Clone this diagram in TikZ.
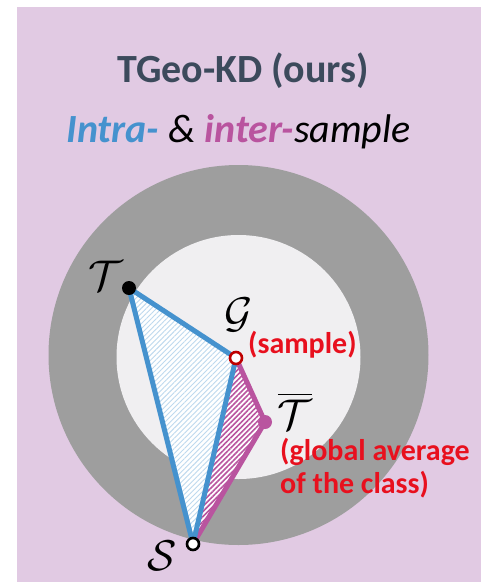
\documentclass[tikz,border=0pt]{standalone}
\usepackage{amsmath}
\usepackage{fontspec}
\setmainfont{Carlito}
\usepackage{tikz}
\usetikzlibrary{patterns.meta}
\definecolor{bgLilac}{HTML}{E1CAE3}
\definecolor{ringGray}{HTML}{9E9E9E}
\definecolor{coreGray}{HTML}{F0EFF1}
\definecolor{intraBlue}{HTML}{4592CE}
\definecolor{interPink}{HTML}{B9549F}
\definecolor{noteRed}{HTML}{E8101E}
\definecolor{titleInk}{HTML}{3C4A5C}
\newcommand{\bigsym}[1]{\scalebox{4.3}{$#1$}}

\begin{document}
\begin{tikzpicture}[
    x=1pt, y=-1pt,
    edgeB/.style={intraBlue, line width=5pt, line join=round, line cap=round},
    edgeP/.style={interPink, line width=5pt, line join=round, line cap=round},
    dot/.style={circle, inner sep=0pt, minimum size=14pt},
    sym/.style={inner sep=0pt},
    note/.style={noteRed, font=\fontsize{30}{33}\selectfont\bfseries, inner sep=0pt},
]
\useasboundingbox (0,0) rectangle (481,582);
\fill[bgLilac] (17,7) rectangle (481,582);
\fill[ringGray] (238.5,355) circle[radius=190];
\fill[coreGray] (238.5,357) circle[radius=122];
\coordinate (T) at (129,288);
\coordinate (G) at (236,358);
\coordinate (Tb) at (265,422);
\coordinate (S) at (193,544);
\fill[white] (T) -- (G) -- (S) -- cycle;
\fill[pattern={Lines[angle=45, distance=3.6pt, line width=0.9pt]}, pattern color=intraBlue!35] (T) -- (G) -- (S) -- cycle;
\fill[white] (G) -- (Tb) -- (S) -- cycle;
\fill[pattern={Lines[angle=45, distance=3.6pt, line width=1.6pt]}, pattern color=interPink] (G) -- (Tb) -- (S) -- cycle;
\draw[edgeP] (G) -- (Tb) -- (S);
\draw[edgeB] (T) -- (G) -- (S) -- cycle;
\node[dot, fill=black] (Tdot) at (T) {};
\node[dot, fill=interPink] (Tbdot) at (Tb) {};
\node[dot, fill=white, draw=red!75!black, line width=2.6pt, minimum size=12pt] (Gdot) at (G) {};
\node[dot, fill=white, draw=black, line width=2.6pt, minimum size=12pt] (Sdot) at (S) {};
\node[sym] (Tlab) at (106,276) {\bigsym{\mathcal{T}}};
\node[sym] (Glab) at (239,315) {\bigsym{\mathcal{G}}};
\node[sym] (Tblab) at (295,411) {\bigsym{\overline{\mathcal{T}}}};
\node[sym] (Slab) at (162,556) {\bigsym{\mathcal{S}}};
\node[note, anchor=base west] (sample) at (248,353) {(sample)};
\node[note, anchor=base west] (global) at (280,460) {(global average};
\node[note, anchor=base west] (klass) at (280,493) {of the class)};
\node[titleInk, anchor=base, font=\fontsize{40}{40}\selectfont\bfseries] (title) at (243,82) {TGeo-KD (ours)};
\node[anchor=base, font=\fontsize{40}{40}\selectfont\itshape] (sub) at (238.5,142)
  {\textcolor{intraBlue}{\bfseries Intra-} \& \textcolor{interPink}{\bfseries inter-}sample};
\end{tikzpicture}
\end{document}
